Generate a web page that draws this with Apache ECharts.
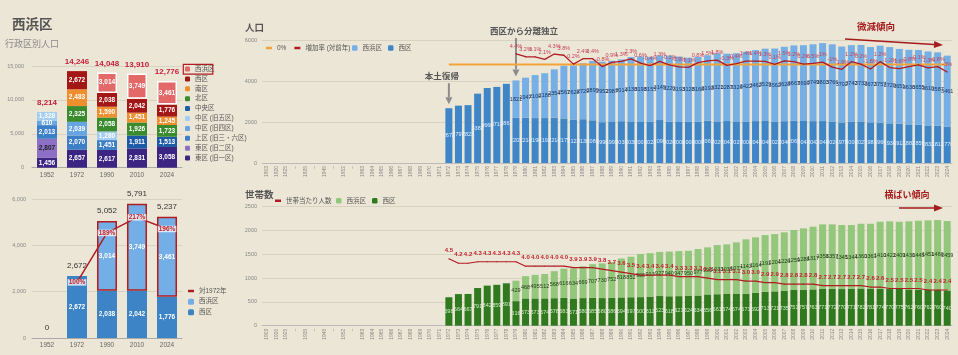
<!DOCTYPE html>
<html><head><meta charset="utf-8">
<script src="https://cdn.jsdelivr.net/npm/echarts@6/dist/echarts.min.js"></script>
<style>html,body{margin:0;padding:0;background:#ece6d6;}#c{width:958px;height:355px;}</style>
</head><body><div id="c"></div>
<script>
const FONT = "'Liberation Sans','Noto Sans CJK JP',sans-serif";

// ---------- Left panel: 行政区別人口 ----------
const wardYears = ['1952','1972','1990','2010','2024'];
const higashi1 = [1456, 2657, 2617, 2831, 3058];
const higashi2 = [2807, null, null, null, null];
const kami     = [2013, 2070, 1451, null, null];
const naka4    = [610, 2039, null, null, null];
const naka5    = [1328, null, 1280, null, null];
const chuo     = [null, null, null, 1911, 1513];
const kita     = [null, 2325, 2058, 1926, 1723];
const minami   = [null, 2483, 1590, 1451, 1245];
const nishi    = [null, 2672, 2038, 2042, 1776];
const nishihama= [null, null, 3014, 3749, 3461];

// bottom-left: 西区 + 西浜区
const blNishi = [0, 2672, 2038, 2042, 1776];
const blHama  = [null, null, 3014, 3749, 3461];
const blRatio = [null, 100, 189, 217, 196];

// ---------- Right panels ----------
const years = ['1903','1920','1925','~','1935','~','1945','~','1952','~',
 '1963','1964','1965','1966','1967','1968','1969','1970','1971',
 '1972','1973','1974','1975','1976','1977','1978','1979','1980','1981','1982','1983','1984','1985','1986','1987','1988','1989',
 '1990','1991','1992','1993','1994','1995','1996','1997','1998','1999','2000','2001','2002','2003','2004','2005','2006','2007',
 '2008','2009','2010','2011','2012','2013','2014','2015','2016','2017','2018','2019','2020','2021','2022','2023','2024'];
const PRE = 19; // categories before 1972 (no data)

// population 1972-2024
const popNishi = [2672,2797,2823,3382,3660,3712,3862,
 2207,2214,2190,2192,2214,2175,2123,2136,2083,1990,1999,2038,2030,2001,2023,2096,2020,2000,2008,2009,2062,2029,2047,2029,2008,2044,2049,2022,2040,2069,2048,2042,2046,2024,1978,2006,2027,1983,1966,1934,1913,1883,1859,1832,1811,1776];
const popHama = [null,null,null,null,null,null,null,
 1821,1947,2100,2188,2354,2567,2628,2729,2899,2952,2987,3014,3138,3198,3155,3149,3220,3193,3128,3168,3193,3321,3287,3326,3422,3462,3529,3562,3628,3667,3699,3749,3803,3766,3702,3742,3732,3672,3757,3720,3651,3636,3655,3610,3587,3461];
// growth rate (%) 1979-2024
const growth = [4.4,3.2,3.1,2.1,4.3,3.8,0.2,2.4,2.4,-0.8,0.9,1.3,2.3,0.6,-0.4,1.3,-0.1,-0.9,-1.1,0.8,1.5,1.8,-0.3,0.4,1.4,1.4,1.3,0.1,1.5,1.2,0.2,0.5,1.0,-1.0,-1.9,1.2,0.2,-1.8,1.2,-1.2,-1.6,-0.8,-0.1,-1.3,-0.8,-3.0];
// 0% reference line 1972-2024
const zeroLine = [0,0,0,0,0,0,0,0,0,0,0,0,0,0,0,0,0,0,0,0,0,0,0,0,0,0,0,0,0,0,0,0,0,0,0,0,0,0,0,0,0,0,0,0,0,0,0,0,0,0,0,0,0];

// households 1972-2024
const hhNishi = [598,664,667,791,842,859,891,
 516,573,573,574,578,583,571,580,585,580,586,594,597,600,611,623,618,621,624,634,656,661,674,674,671,692,713,721,735,751,757,763,771,772,770,771,782,781,774,770,775,762,760,762,760,740];
const hhHama = [null,null,null,null,null,null,null,
 429,468,495,512,568,616,634,669,707,730,752,818,852,906,913,927,940,947,950,977,990,1033,1035,1077,1143,1164,1191,1204,1226,1259,1288,1317,1358,1357,1345,1344,1360,1361,1410,1422,1409,1430,1445,1451,1460,1459];
// persons per household 1972-2024
const perHH = [4.5,4.2,4.2,4.3,4.3,4.3,4.3,4.3,4.0,4.0,4.0,4.0,4.0,3.9,3.9,3.9,3.8,3.7,3.6,3.5,3.4,3.4,3.4,3.4,3.3,3.3,3.3,3.2,3.1,3.1,3.1,3.0,3.0,2.9,2.9,2.8,2.8,2.8,2.8,2.7,2.7,2.7,2.7,2.7,2.6,2.6,2.5,2.5,2.5,2.5,2.4,2.4,2.4];

// ---------- helpers ----------
const pad = (arr, n) => Array(n).fill(null).concat(arr);
const fmt = v => (v == null ? '' : Number(v).toLocaleString('en-US'));
const plain = v => String(v);
const sumCols = (...arrs) => arrs[0].map((_, i) => arrs.reduce((s, a) => s + (a[i] || 0), 0));
const tlTotals = sumCols(higashi1, higashi2, kami, naka4, naka5, chuo, kita, minami, nishi, nishihama);
const blTotals = sumCols(blNishi, blHama);

const NAMES = {
 tl_h1:'東区 (旧一区)', tl_h2:'東区 (旧二区)', tl_kami:'上区 (旧三・六区)', tl_n4:'中区 (旧四区)', tl_n5:'中区 (旧五区)',
 tl_chuo:'中央区', tl_kita:'北区', tl_minami:'南区', tl_nishi:'西区', tl_hama:'西浜区',
 bl_ratio:'対1972年', bl_hama:'西浜区', bl_nishi:'西区',
 tr_zero:'0%', tr_rate:'増加率 (対前年)', tr_hama:'西浜区', tr_nishi:'西区',
 br_per:'世帯当たり人数', br_hama:'西浜区', br_nishi:'西区'
};
const lf = n => NAMES[n];

function seg(id, data, color, labelColor, extra) {
  return Object.assign({
    type:'bar', name:id, data, stack:'tl', xAxisIndex:0, yAxisIndex:0, barWidth:20,
    itemStyle:{color},
    label:{show:true, position:'inside', fontSize:6.5, fontWeight:'bold', color:labelColor || '#fff',
      formatter:p => fmt(p.value)}
  }, extra || {});
}

const axisLblGray = {fontSize:5.5, color:'#888'};
const split = {lineStyle:{color:'#d8d2c3', width:1}};
const CLEAR = 'rgba(0,0,0,0)';

const series = [
  // top-left stacked
  seg('tl_h1', higashi1, '#3b2482'),
  seg('tl_h2', higashi2, '#8d6fc6', '#222'),
  seg('tl_kami', kami, '#3d7fc6'),
  seg('tl_n4', naka4, '#67a5e2'),
  seg('tl_n5', naka5, '#a3cdf1'),
  seg('tl_chuo', chuo, '#1d5ba6'),
  seg('tl_kita', kita, '#3a8a2e'),
  seg('tl_minami', minami, '#ef8f2f'),
  seg('tl_nishi', nishi, '#a31616'),
  seg('tl_hama', nishihama, '#e36868', '#fff', {itemStyle:{color:'#e36868', borderColor:'#fff', borderWidth:1.5}}),
  {type:'line', name:'tl_total', xAxisIndex:0, yAxisIndex:0, data:tlTotals, symbol:'circle', symbolSize:2, showAllSymbol:true,
   lineStyle:{opacity:0}, itemStyle:{color:CLEAR}, silent:true, z:5,
   label:{show:true, position:'top', distance:4, color:'#c41e3a', fontWeight:'bold', fontSize:8, formatter:p => fmt(p.value)}},

  // bottom-left
  {type:'bar', name:'bl_nishi', data:blNishi, stack:'bl', xAxisIndex:1, yAxisIndex:1, barWidth:20,
   itemStyle:{color:'#3d84c6'},
   label:{show:true, position:'inside', fontSize:6.5, fontWeight:'bold', color:'#fff', formatter:p => p.value ? fmt(p.value) : ''}},
  {type:'bar', name:'bl_hama', data:blHama, stack:'bl', xAxisIndex:1, yAxisIndex:1, barWidth:20,
   itemStyle:{color:'#74aee6', borderColor:'#b01c22', borderWidth:1.5},
   label:{show:true, position:'inside', fontSize:6.5, fontWeight:'bold', color:'#fff', formatter:p => p.value ? fmt(p.value) : ''}},
  {type:'line', name:'bl_total', xAxisIndex:1, yAxisIndex:1, data:blTotals, symbol:'circle', symbolSize:2, showAllSymbol:true,
   lineStyle:{opacity:0}, itemStyle:{color:CLEAR}, silent:true, z:5,
   label:{show:true, position:'top', distance:5, color:'#333', fontSize:8, formatter:p => fmt(p.value)}},
  {type:'line', name:'bl_ratio', xAxisIndex:1, yAxisIndex:2, data:blRatio, symbol:'circle', symbolSize:1, showAllSymbol:true, z:6,
   lineStyle:{color:'#b01c22', width:1.5}, itemStyle:{color:'#b01c22'},
   label:{show:true, position:'inside', color:'#c0202a', fontWeight:'bold', fontSize:6.5,
     backgroundColor:'rgba(255,255,255,0.75)', padding:[0,1], formatter:p => p.value + '%'}},

  // top-right population
  {type:'bar', name:'tr_nishi', data:pad(popNishi, PRE), stack:'tr', xAxisIndex:2, yAxisIndex:3, barWidth:7,
   itemStyle:{color:'#3f86c8'},
   label:{show:true, position:'inside', fontSize:5.5, color:'#e4effb', formatter:p => p.value == null ? '' : p.value}},
  {type:'bar', name:'tr_hama', data:pad(popHama, PRE), stack:'tr', xAxisIndex:2, yAxisIndex:3, barWidth:7,
   itemStyle:{color:'#76afe5'},
   label:{show:true, position:'inside', fontSize:5.5, color:'#1c3660', formatter:p => p.value == null ? '' : p.value}},
  {type:'line', name:'tr_zero', data:pad(zeroLine, PRE), xAxisIndex:2, yAxisIndex:4, symbol:'none', z:4,
   lineStyle:{color:'#f2a33a', width:2}, itemStyle:{color:'#f2a33a'}},
  {type:'line', name:'tr_rate', data:pad(growth, PRE + 7), xAxisIndex:2, yAxisIndex:4, symbol:'circle', symbolSize:1, showAllSymbol:true, z:5,
   lineStyle:{color:'#b01c22', width:1.3}, itemStyle:{color:'#b01c22'},
   label:{show:true, position:'top', distance:4, fontSize:5.5, color:'#c4405a', formatter:p => p.value + '%'}},

  // bottom-right households
  {type:'bar', name:'br_nishi', data:pad(hhNishi, PRE), stack:'br', xAxisIndex:3, yAxisIndex:5, barWidth:7,
   itemStyle:{color:'#2f7a1f'},
   label:{show:true, position:'inside', fontSize:5.5, color:'#d9ecd0', formatter:p => p.value == null ? '' : p.value}},
  {type:'bar', name:'br_hama', data:pad(hhHama, PRE), stack:'br', xAxisIndex:3, yAxisIndex:5, barWidth:7,
   itemStyle:{color:'#93c77c'},
   label:{show:true, position:'inside', fontSize:5.5, color:'#1f3a14', formatter:p => p.value == null ? '' : p.value}},
  {type:'line', name:'br_per', data:pad(perHH, PRE), xAxisIndex:3, yAxisIndex:6, symbol:'circle', symbolSize:1, showAllSymbol:true, z:5,
   lineStyle:{color:'#b01c22', width:1.2}, itemStyle:{color:'#b01c22'},
   label:{show:true, position:'top', distance:5, fontSize:6, fontWeight:'bold', color:'#c0202a', formatter:p => p.value.toFixed(1)}}
];

const catAxisSmall = (gi, data) => ({gridIndex:gi, type:'category', data, axisTick:{show:false},
  axisLine:{lineStyle:{color:'#aaa'}}, axisLabel:{fontSize:6.5, color:'#666', margin:4}});
const catAxisYears = gi => ({gridIndex:gi, type:'category', data:years, axisTick:{show:false},
  axisLine:{lineStyle:{color:'#bbb'}}, axisLabel:{rotate:90, fontSize:5, color:'#888', interval:0, margin:3}});

const legText = {fontSize:6.5, color:'#555'};

const option = {
  backgroundColor:'#ece6d6',
  animation:false,
  textStyle:{fontFamily:FONT},
  grid:[
    {left:32, top:66, width:150, height:101.7},
    {left:32, top:199, width:150, height:139},
    {left:262, top:40, width:690, height:123},
    {left:262, top:206.7, width:690, height:119}
  ],
  xAxis:[catAxisSmall(0, wardYears), catAxisSmall(1, wardYears), catAxisYears(2), catAxisYears(3)],
  yAxis:[
    {gridIndex:0, type:'value', min:0, max:15000, interval:5000, axisLabel:Object.assign({margin:8, formatter:fmt}, axisLblGray), splitLine:split},
    {gridIndex:1, type:'value', min:0, max:6000, interval:2000, axisLabel:Object.assign({margin:6, formatter:fmt}, axisLblGray), splitLine:split},
    {gridIndex:1, type:'value', min:0, max:250, show:false, splitLine:{show:false}},
    {gridIndex:2, type:'value', min:0, max:6000, interval:2000, axisLabel:Object.assign({margin:5, formatter:plain}, axisLblGray), splitLine:split},
    {gridIndex:2, type:'value', min:-40, max:10, show:false, splitLine:{show:false}},
    {gridIndex:3, type:'value', min:0, max:2500, interval:500, axisLabel:Object.assign({margin:5, formatter:plain}, axisLblGray), splitLine:split},
    {gridIndex:3, type:'value', min:0, max:8, show:false, splitLine:{show:false}}
  ],
  legend:[
    {orient:'vertical', left:185, top:65.75, padding:0, itemWidth:5, itemHeight:5, itemGap:3.4, textStyle:legText, formatter:lf,
     itemStyle:{borderWidth:0}, selectedMode:false,
     data:['tl_hama','tl_nishi','tl_minami','tl_kita','tl_chuo','tl_n5','tl_n4','tl_kami','tl_h2','tl_h1']},
    {orient:'vertical', left:188, top:287.75, padding:0, itemWidth:6, itemHeight:2.5, icon:'rect', textStyle:legText, formatter:lf, selectedMode:false,
     data:['bl_ratio']},
    {orient:'vertical', left:188, top:298.4, padding:0, itemWidth:6, itemHeight:6, itemGap:4.1, textStyle:legText, formatter:lf, selectedMode:false,
     itemStyle:{borderWidth:0}, data:['bl_hama','bl_nishi']},
    {left:266, top:44.75, padding:0, itemWidth:6, itemHeight:2.5, itemGap:8, icon:'rect', textStyle:legText, formatter:lf, selectedMode:false,
     data:['tr_zero','tr_rate']},
    {left:352, top:44.75, padding:0, itemWidth:5.5, itemHeight:5.5, itemGap:6, textStyle:legText, formatter:lf, selectedMode:false,
     data:['tr_hama','tr_nishi']},
    {left:275, top:197.5, padding:0, itemWidth:6, itemHeight:2.5, icon:'rect', textStyle:legText, formatter:lf, selectedMode:false,
     data:['br_per']},
    {left:336, top:197.5, padding:0, itemWidth:5.5, itemHeight:5.5, itemGap:6, textStyle:legText, formatter:lf, selectedMode:false,
     data:['br_hama','br_nishi']}
  ],
  series
};

const chart = echarts.init(document.getElementById('c'));
chart.setOption(option);

function arrow(x1, y1, x2, y2, color, w, hl, hw) {
  const a = Math.atan2(y2 - y1, x2 - x1);
  const bx = x2 - hl * Math.cos(a), by = y2 - hl * Math.sin(a);
  const px = -Math.sin(a) * hw / 2, py = Math.cos(a) * hw / 2;
  return [
    {type:'line', silent:true, shape:{x1, y1, x2:bx, y2:by}, style:{stroke:color, lineWidth:w}},
    {type:'polygon', silent:true, shape:{points:[[x2, y2], [bx + px, by + py], [bx - px, by - py]]}, style:{fill:color}}
  ];
}
function txt(x, y, text, size, color, weight, align) {
  return {type:'text', silent:true, x, y, style:{text, fontSize:size, fill:color, fontWeight:weight || 'normal',
    fontFamily:FONT, align:align || 'left', verticalAlign:'middle'}};
}

// annotation positions from axis scales
const i1972 = PRE, i1979 = PRE + 7;
const top1972 = chart.convertToPixel({xAxisIndex:2, yAxisIndex:3}, [i1972, popNishi[0]]);
const top1979 = chart.convertToPixel({xAxisIndex:2, yAxisIndex:3}, [i1979, popNishi[7] + popHama[7]]);
const gray = '#8c8c8c';
let g = [];
g.push(txt(12, 25, '西浜区', 13.5, '#555', 'bold'));
g.push(txt(5, 45, '行政区別人口', 9, '#8a8a8a'));
g.push(txt(245, 28, '人口', 9.5, '#555', 'bold'));
g.push(txt(245, 195, '世帯数', 9.5, '#555', 'bold'));
g.push({type:'rect', silent:true, shape:{x:183.3, y:64.3, width:29.5, height:9.8}, style:{fill:'none', stroke:'#b01c22', lineWidth:1.2}});
// 本土復帰
const t1 = top1972[1] - 4;
g.push(txt(top1972[0] - 7, t1 - 28, '本土復帰', 8.5, '#555', 'bold', 'center'));
g = g.concat(arrow(top1972[0], t1 - 21, top1972[0], t1, gray, 2, 7, 7));
// 西区から分離独立
const t2 = top1979[1] - 4;
g.push(txt(top1979[0] + 8, 32, '西区から分離独立', 8.5, '#555', 'bold', 'center'));
g = g.concat(arrow(top1979[0], 38, top1979[0], t2, gray, 2, 7, 7));
// trends
g.push(txt(876, 27, '微減傾向', 9.5, '#a51c1c', 'bold', 'center'));
g = g.concat(arrow(845, 39, 943, 45, '#a51c1c', 1.5, 9, 7));
g.push(txt(907, 196, '横ばい傾向', 9, '#a51c1c', 'bold', 'center'));
g = g.concat(arrow(899, 208, 943, 208, '#a51c1c', 1.5, 9, 7));
chart.setOption({graphic:g});
</script></body></html>
